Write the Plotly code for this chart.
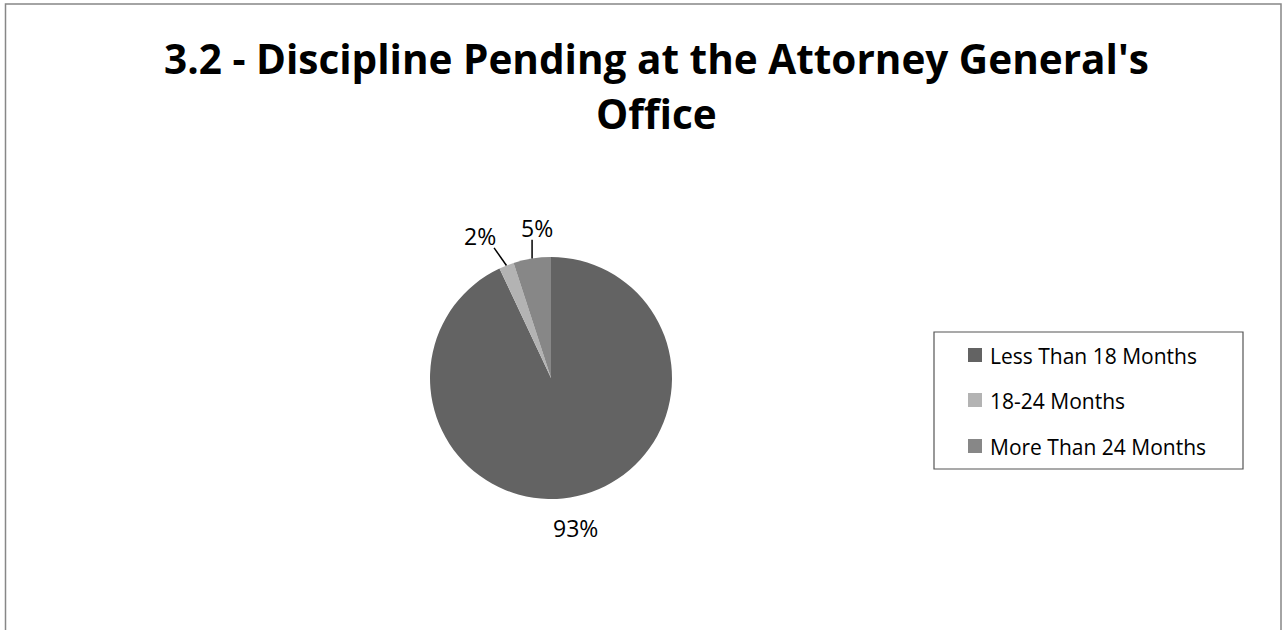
import math
import plotly.graph_objects as go

# ---- data ----
categories = ["Less Than 18 Months", "18-24 Months", "More Than 24 Months"]
values = [93, 2, 5]
label_texts = ["93%", "2%", "5%"]
title_lines = ["3.2 - Discipline Pending at the Attorney General's", "Office"]

# ---- style ----
colors = ["#636363", "#b3b3b3", "#878787"]
W, H = 1282, 630
FONT = "Open Sans"
CX, CY, R = 551, 378, 121            # pie centre / radius in px
label_r = [152, 159, 151]             # label distance from centre (px)
label_shift = [-3.5, 5.0, -3.7]       # label angular nudge (deg)
leader = [False, True, True]
lab_size = 23
leg_font = 21
leg_box = (934, 332, 1243, 469)
leg_rows = [355, 400, 446]
leg_sq_x = 968
leg_sq = 14
leg_txt_x = 988
title_size = 40.5
title_x = 656
title_rows = [58, 113]


def px(x):
    return x / W


def py(y):
    return 1 - y / H


fig = go.Figure()
fig.add_trace(go.Pie(
    labels=categories, values=values, sort=False, direction="clockwise",
    rotation=0, textinfo="none", hoverinfo="label+percent",
    marker=dict(colors=colors, line=dict(width=0)),
    domain=dict(x=[px(CX - R), px(CX + R)], y=[py(CY + R), py(CY - R)]),
    showlegend=False,
))

annotations = []
shapes = []

# chart border
shapes.append(dict(type="rect", xref="paper", yref="paper",
                   x0=px(5.5), x1=px(1281), y0=py(700), y1=py(4),
                   line=dict(color="#878787", width=1.5)))

# title
for i, line in enumerate(title_lines):
    annotations.append(dict(x=px(title_x), y=py(title_rows[i]), xref="paper", yref="paper",
                            text="<b>" + line + "</b>", showarrow=False,
                            xanchor="center", yanchor="middle",
                            font=dict(family=FONT, size=title_size, color="#000")))

total = sum(values)
cum = 0.0
for i, v in enumerate(values):
    frac = v / total
    mid = 90 - 360 * (cum + frac / 2)
    cum += frac
    ang = math.radians(mid + label_shift[i])
    lx = CX + label_r[i] * math.cos(ang)
    ly = CY - label_r[i] * math.sin(ang)
    annotations.append(dict(x=px(lx), y=py(ly), xref="paper", yref="paper",
                            text=label_texts[i], showarrow=False,
                            xanchor="center", yanchor="middle",
                            font=dict(family=FONT, size=lab_size, color="#000")))
    if leader[i]:
        m = math.radians(mid)
        ex = CX + R * math.cos(m)
        ey = CY - R * math.sin(m)
        hw = 0.62 * lab_size * len(label_texts[i]) / 2
        hh = 12
        nx = min(max(ex, lx - hw), lx + hw)
        ny = min(max(ey, ly - hh), ly + hh)
        shapes.append(dict(type="line", xref="paper", yref="paper",
                           x0=px(ex), y0=py(ey), x1=px(nx), y1=py(ny),
                           line=dict(color="#000", width=1.5)))

# legend
bx0, by0, bx1, by1 = leg_box
shapes.append(dict(type="rect", xref="paper", yref="paper",
                   x0=px(bx0), x1=px(bx1), y0=py(by1), y1=py(by0),
                   line=dict(color="#555", width=1.2)))
for i, name in enumerate(categories):
    yc = leg_rows[i]
    shapes.append(dict(type="rect", xref="paper", yref="paper",
                       x0=px(leg_sq_x), x1=px(leg_sq_x + leg_sq),
                       y0=py(yc + leg_sq / 2), y1=py(yc - leg_sq / 2),
                       fillcolor=colors[i], line=dict(width=0)))
    annotations.append(dict(x=px(leg_txt_x), y=py(yc + 1), xref="paper", yref="paper",
                            text=name, showarrow=False, xanchor="left", yanchor="middle",
                            font=dict(family=FONT, size=leg_font, color="#000")))

fig.update_layout(
    width=W, height=H,
    margin=dict(l=0, r=0, t=0, b=0),
    paper_bgcolor="white", plot_bgcolor="white",
    annotations=annotations, shapes=shapes,
)

fig.write_html("out.html")
